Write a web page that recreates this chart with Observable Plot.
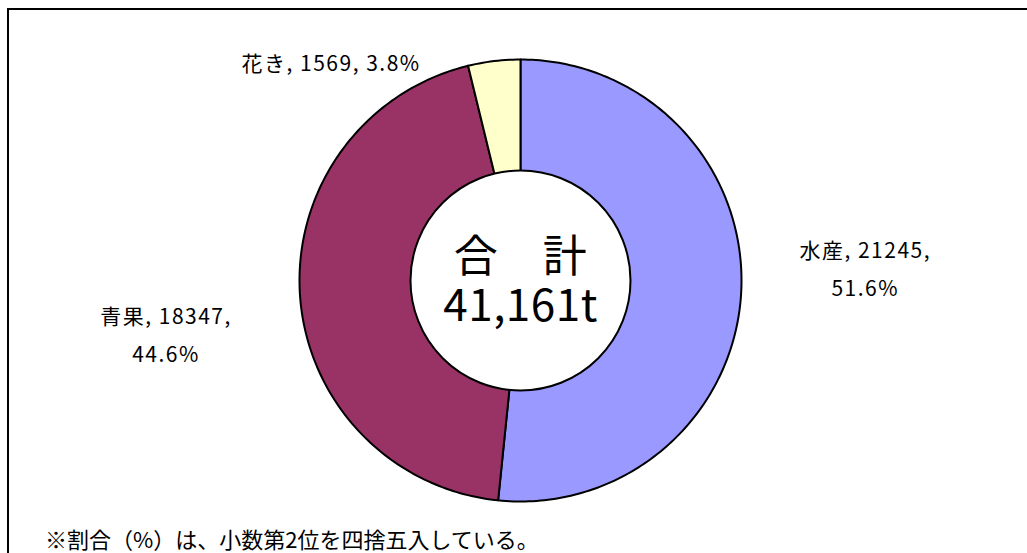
<!DOCTYPE html>
<html>
<head>
<meta charset="utf-8">
<script src="https://cdn.jsdelivr.net/npm/d3@7"></script>
<script src="https://cdn.jsdelivr.net/npm/@observablehq/plot@0.6"></script>
<style>
  html, body { margin: 0; padding: 0; background: #fff; overflow: hidden; }
  #wrap { position: relative; width: 1027px; height: 553px; overflow: hidden; }
  #frame { position: absolute; left: 7px; top: 8px; width: 1100px; height: 700px;
           border-top: 2px solid #000; border-left: 2px solid #000; box-sizing: border-box; pointer-events: none; }
  #note { position: absolute; left: 45px; top: 527px; font-family: "Noto Sans CJK JP", sans-serif;
          font-size: 22px; line-height: 22px; color: #000; white-space: nowrap; }
  .lbl text { letter-spacing: 1.5px; }
  .ctr text { letter-spacing: 0.5px; }
</style>
</head>
<body>
<div id="wrap">
  <div id="chart"></div>
  <div id="note"></div>
  <div id="frame"></div>
</div>
<script>
// ---- data ----
const categories = ["水産", "青果", "花き"];
const values = [21245, 18347, 1569];
const percents = [51.6, 44.6, 3.8];
const colors = ["#9999FF", "#993366", "#FFFFCC"];
const totalLabel = ["合　計", "41,161t"];
const footnote = "※割合（%）は、小数第2位を四捨五入している。";

// ---- build slice geometry (angles clockwise from 12 o'clock) ----
const total = d3.sum(values);
let acc = 0;
const slices = categories.map((c, i) => {
  const a0 = acc / total * 2 * Math.PI;
  acc += values[i];
  const a1 = acc / total * 2 * Math.PI;
  return {category: c, value: values[i], pct: percents[i], color: colors[i], a0, a1, mid: (a0 + a1) / 2};
});

function wedge(s) {
  const pts = [{x: 0, y: 0}];
  const n = Math.max(2, Math.ceil((s.a1 - s.a0) / (2 * Math.PI) * 360));
  for (let k = 0; k <= n; k++) {
    const a = s.a0 + (s.a1 - s.a0) * k / n;
    pts.push({x: Math.sin(a), y: Math.cos(a)});
  }
  pts.push({x: 0, y: 0});
  return pts;
}

// label offsets (pixels) from the slice's outer mid-point
const labelOffset = {"水産": [124, -27], "青果": [-134, 35], "花き": [-163, -2]};

const font = "'Noto Sans CJK JP', sans-serif";

const marks = [];
slices.forEach(s => {
  marks.push(Plot.line(wedge(s), {x: "x", y: "y", fill: s.color, stroke: "#000", strokeWidth: 2, strokeLinejoin: "round"}));
});
marks.push(Plot.dot([{x: 0, y: 0}], {x: "x", y: "y", r: 110, fill: "#fff", stroke: "#000", strokeWidth: 2}));
marks.push(Plot.text([{x: 0, y: 0, t: totalLabel.join("\n")}],
  {x: "x", y: "y", text: "t", fontSize: 44, lineHeight: 1.13, fill: "#000", className: "ctr"}));
slices.forEach(s => {
  const [dx, dy] = labelOffset[s.category];
  const txt = s.category === "花き"
    ? `${s.category}, ${s.value}, ${s.pct.toFixed(1)}%`
    : `${s.category}, ${s.value},\n${s.pct.toFixed(1)}%`;
  marks.push(Plot.text([{x: Math.sin(s.mid), y: Math.cos(s.mid), t: txt}],
    {x: "x", y: "y", text: "t", dx, dy, fontSize: 21, lineHeight: 1.8, fill: "#000", className: "lbl"}));
});

const chart = Plot.plot({
  width: 1027,
  height: 553,
  margin: 0,
  x: {domain: [-1, 1], range: [299, 741], axis: null},
  y: {domain: [-1, 1], range: [501, 59], axis: null},
  style: {fontFamily: font, background: "transparent", overflow: "visible"},
  marks
});
document.getElementById("chart").appendChild(chart);
document.getElementById("note").textContent = footnote;
</script>
</body>
</html>
